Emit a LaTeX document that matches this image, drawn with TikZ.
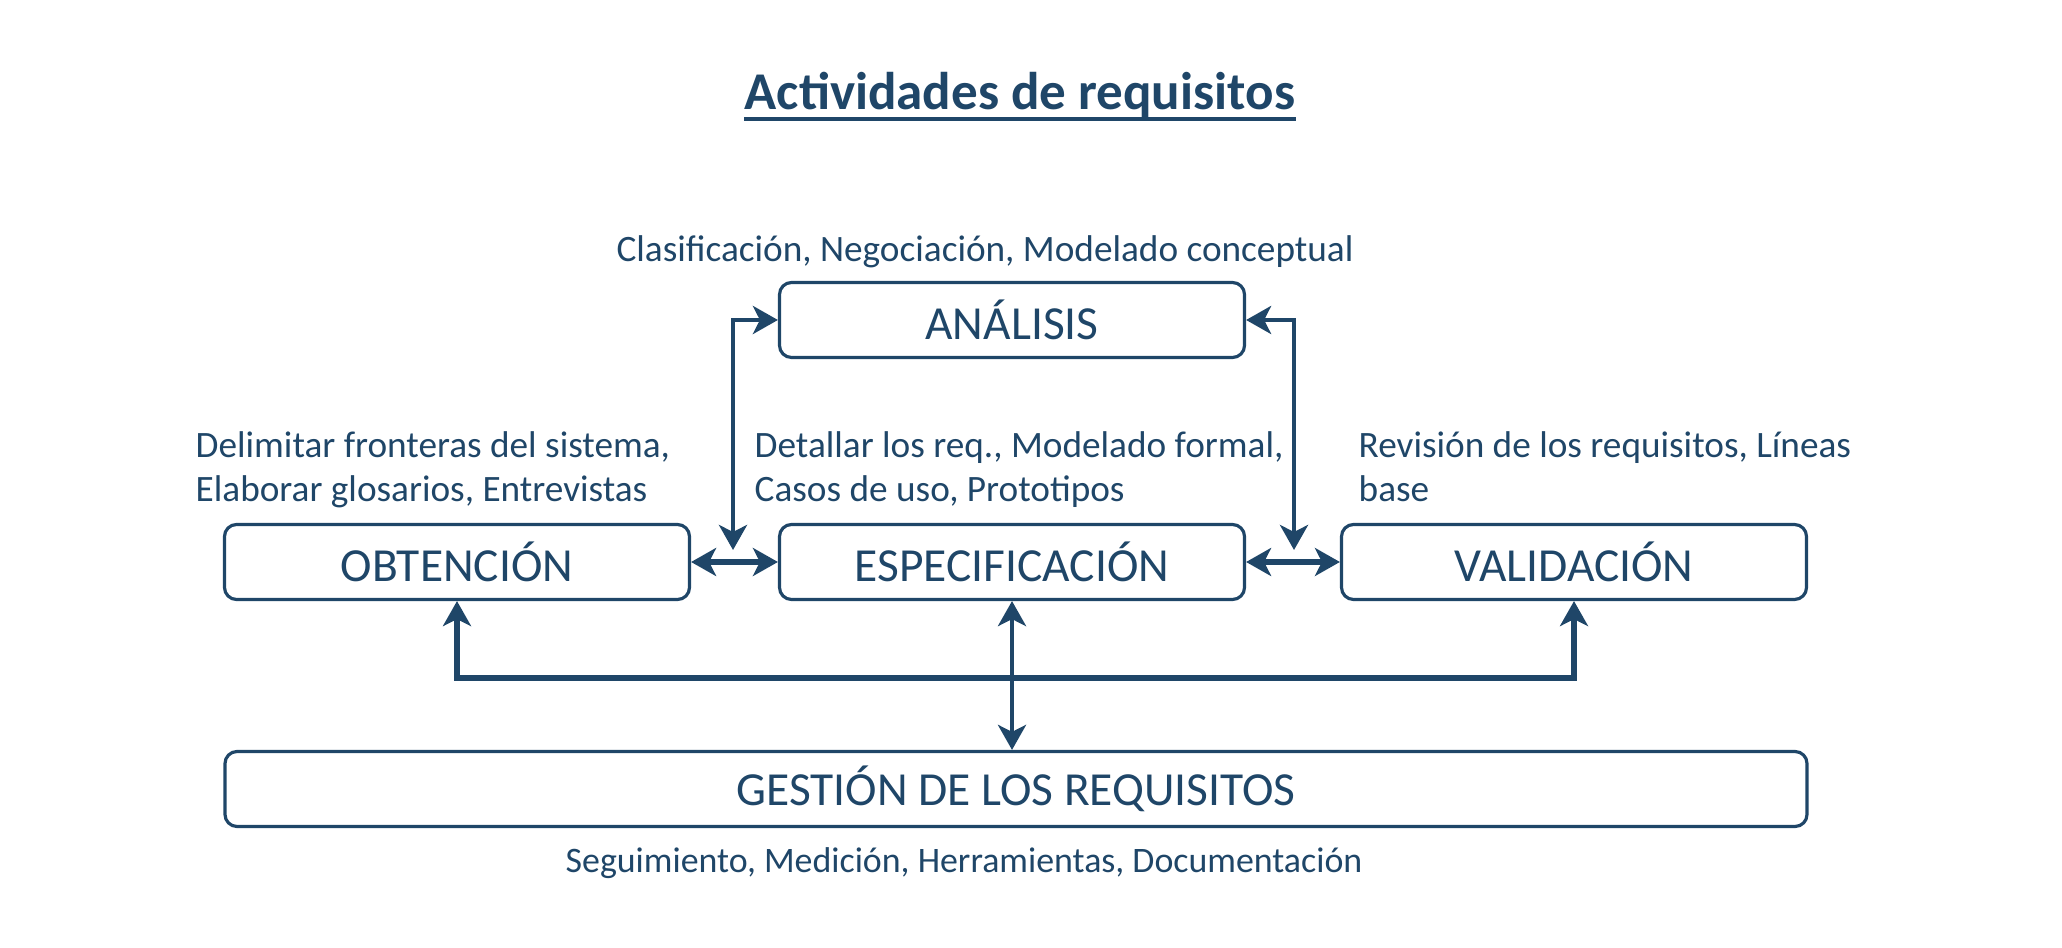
\documentclass[tikz,border=0pt]{standalone}
\usepackage{fontspec}
\setmainfont{Carlito}
\usetikzlibrary{arrows.meta, positioning, calc}
\definecolor{cReq}{RGB}{31,70,104}

\begin{document}
\begin{tikzpicture}[
    color=cReq, text=cReq,
    actbox/.style={draw, line width=0.9pt, rounded corners=1.2mm, minimum width=4.65cm,
      minimum height=0.75cm, font=\fontsize{13.5}{16}\selectfont},
    note/.style={font=\fontsize{10.6}{12.7}\selectfont, align=left, inner sep=0pt},
    link/.style={line width=1.4pt, {Stealth[length=2.5mm, width=2.8mm, inset=0.7mm]}-{Stealth[length=2.5mm, width=2.8mm, inset=0.7mm]}},
    bus/.style={link, line width=1.8pt}]
  \useasboundingbox (0,0) rectangle (20.62,-9.48);
  % title
  \node[font=\fontsize{15.1}{18}\selectfont\bfseries, inner xsep=0pt] (title) at (10.2,-0.95) {Actividades de requisitos};
  \draw[line width=1.1pt] ([yshift=-2.8pt]title.base west) -- ([yshift=-2.8pt]title.base east);
  % activities
  \node[actbox] (anal) at (10.12,-3.2) {ANÁLISIS};
  \foreach \n/\x/\t in {obt/4.57/OBTENCIÓN, esp/10.12/ESPECIFICACIÓN, val/15.74/VALIDACIÓN} {
    \node[actbox] (\n) at (\x,-5.62) {\t};
  }
  \node[actbox, minimum width=15.82cm] (gest) at (10.16,-7.89) {GESTIÓN DE LOS REQUISITOS};
  % descriptions
  \node[note] (tanal) at (9.85,-2.52) {Clasificación, Negociación, Modelado conceptual};
  \node[note, anchor=base west] (tobt) at (1.95,-5.02) {Delimitar fronteras del sistema,\\Elaborar glosarios, Entrevistas};
  \node[note, anchor=base west] (tesp) at (7.54,-5.02) {Detallar los req., Modelado formal,\\Casos de uso, Prototipos};
  \node[note, anchor=base west] (tval) at (13.58,-5.02) {Revisión de los requisitos, Líneas\\base};
  \node[note, font=\fontsize{10.2}{12}\selectfont] (tgest) at (9.64,-8.63) {Seguimiento, Medición, Herramientas, Documentación};
  % connectors
  \coordinate (lj) at (7.33,-5.5);
  \coordinate (rj) at (12.94,-5.5);
  \coordinate (bb) at (10.12,-6.78);
  \draw[link] (anal.west) -| (lj);
  \draw[link] (anal.east) -| (rj);
  \draw[bus] (obt) -- (esp);
  \draw[bus] (esp) -- (val);
  \draw[bus] (obt.south) |- (bb) -| (val.south);
  \draw[link] (esp.south) -- (esp.south |- gest.north);
\end{tikzpicture}
\end{document}
